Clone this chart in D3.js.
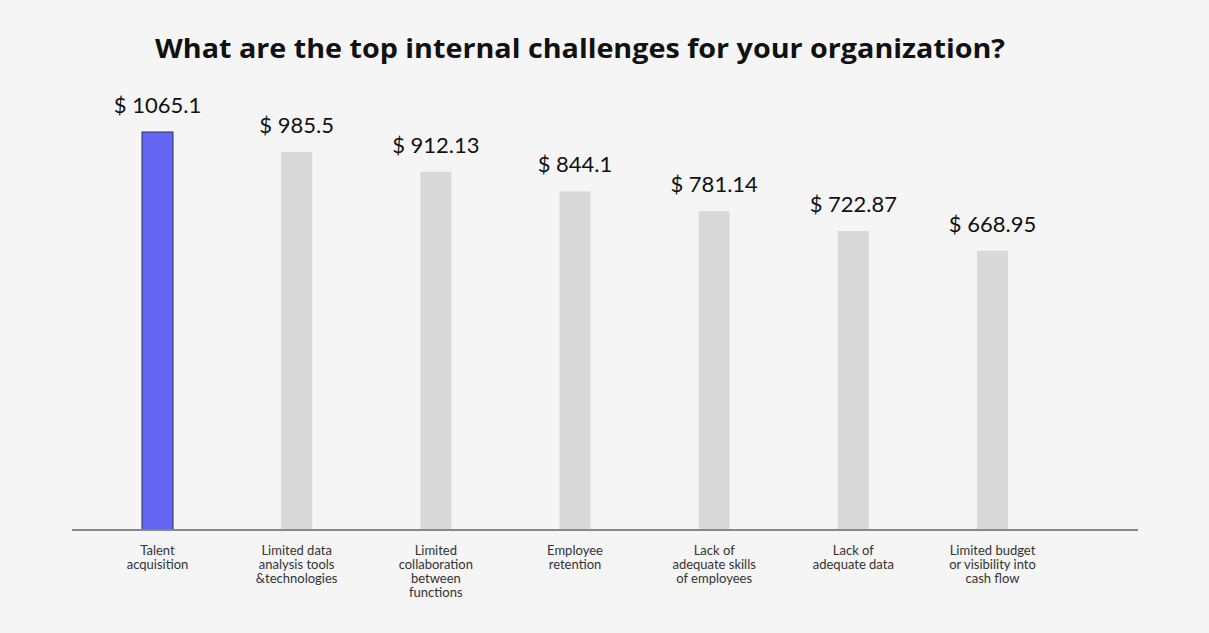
<!DOCTYPE html>
<html>
<head>
<meta charset="utf-8">
<script src="https://cdn.jsdelivr.net/npm/d3@7"></script>
<style>
  body { margin: 0; background: #f5f5f5; }
  svg { display: block; font-family: Lato, "Open Sans", sans-serif; }
</style>
</head>
<body>
<div id="chart"></div>
<script>
const categories = [
    ["Talent", "acquisition"],
    ["Limited data", "analysis tools", "&technologies"],
    ["Limited", "collaboration", "between", "functions"],
    ["Employee", "retention"],
    ["Lack of", "adequate skills", "of employees"],
    ["Lack of", "adequate data"],
    ["Limited budget", "or visibility into", "cash flow"]
]
const values = [1065.1, 985.5, 912.13, 844.1, 781.14, 722.87, 668.95]
const highlight = 0

const width = 1209, height = 633
const margin = ({ top: 132, bottom: 103, left: 72, right: 71 })

const svg = d3.select('#chart')
    .append('svg')
    .attr('width', width)
    .attr('height', height)

svg.append('rect')
    .attr('width', width)
    .attr('height', height)
    .attr('fill', '#f5f5f5')

const idx = d3.range(values.length)

const x = d3.scalePoint()
    .domain(idx)
    .range([157.5, 992.5])

const y = d3.scaleLog()
    .domain([224.2, d3.max(values)])
    .range([height - margin.bottom, margin.top])

const barW = 31

svg.append('text')
    .attr('x', 580)
    .attr('y', 58)
    .attr('text-anchor', 'middle')
    .attr('font-family', '"Open Sans", sans-serif')
    .attr('font-size', 27)
    .attr('font-weight', 700)
    .attr('fill', '#111')
    .attr('textLength', 850)
    .attr('lengthAdjust', 'spacingAndGlyphs')
    .text('What are the top internal challenges for your organization?')

svg.append('g')
    .selectAll('rect')
    .data(idx)
    .join('rect')
    .attr('x', i => x(i) - barW / 2)
    .attr('y', i => y(values[i]))
    .attr('width', barW)
    .attr('height', i => y.range()[0] - y(values[i]))
    .attr('fill', i => i === highlight ? '#6366f1' : '#d9d9d9')
    .attr('stroke', i => i === highlight ? '#2f2f5a' : 'none')
    .attr('stroke-width', 1)

svg.append('g')
    .selectAll('text')
    .data(idx)
    .join('text')
    .attr('x', i => x(i))
    .attr('y', i => y(values[i]) - 19)
    .attr('text-anchor', 'middle')
    .attr('font-size', 22)
    .attr('fill', '#111')
    .text(i => `$ ${values[i]}`)

// baseline
svg.append('line')
    .attr('x1', margin.left)
    .attr('x2', width - margin.right)
    .attr('y1', y.range()[0])
    .attr('y2', y.range()[0])
    .attr('stroke', '#888')
    .attr('stroke-width', 2)

const labels = svg.append('g')
    .selectAll('text')
    .data(idx)
    .join('text')
    .attr('text-anchor', 'middle')
    .attr('font-size', 13)
    .attr('fill', '#333')

labels.selectAll('tspan')
    .data(i => categories[i].map(t => ({ t, i })))
    .join('tspan')
    .attr('x', d => x(d.i))
    .attr('y', (d, j) => 555 + j * 14)
    .text(d => d.t)
</script>
</body>
</html>
